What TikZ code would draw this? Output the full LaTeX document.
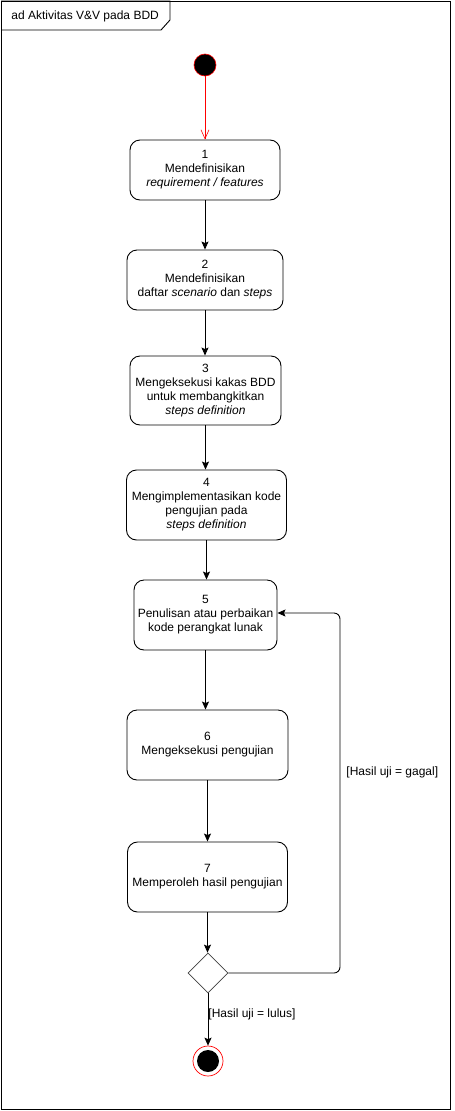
\documentclass[tikz,border=0pt]{standalone}
\usepackage{fontspec}
\setmainfont{Liberation Sans}
\usepackage{xcolor}
\definecolor{startred}{RGB}{255,0,0}
\usepackage{tikz}
\usetikzlibrary{arrows.meta,shapes.geometric,calc}

\begin{document}
\begin{tikzpicture}[x=1pt,y=-1pt,line width=0.9pt,
  act/.style={draw,rounded corners=10pt,align=center,font=\fontsize{12}{14}\selectfont},
  flow/.style={-{Stealth[length=8pt,width=7pt,inset=1.5pt]}},
  guard/.style={font=\fontsize{12}{14}\selectfont,inner sep=0pt}]
  \useasboundingbox (0,0) rectangle (455,1111);
  % frame and its name tag
  \draw (1,1) rectangle (450,1109);
  \draw (1,1) -- (170,1) -- (170,20) -- (161,30) -- (1,30);
  \node[guard,anchor=west] (title) at (11,16) {ad Aktivitas V\&V pada BDD};

  % initial node
  \node[circle,fill=black,draw=startred,line width=0.6pt,minimum size=22pt,inner sep=0pt] (start) at (205,65) {};

  % the activities
  \node[act,minimum width=150pt,minimum height=60pt] (act1) at (205,170)
    {1\\Mendefinisikan\\\textit{requirement / features}};
  \node[act,minimum width=156pt,minimum height=60pt] (act2) at (205,280)
    {2\\Mendefinisikan\\daftar \textit{scenario} dan \textit{steps}};
  \node[act,minimum width=151pt,minimum height=69pt] (act3) at (205.5,390.5)
    {3\\Mengeksekusi kakas BDD\\untuk membangkitkan\\\textit{steps definition}};
  \node[act,minimum width=160pt,minimum height=70pt] (act4) at (206.5,505)
    {4\\Mengimplementasikan kode\\pengujian pada\\\textit{steps definition}};
  \node[act,minimum width=143pt,minimum height=70pt] (act5) at (205.5,615)
    {5\\Penulisan atau perbaikan\\kode perangkat lunak};
  \node[act,minimum width=161pt,minimum height=70pt] (act6) at (207.5,745)
    {6\\Mengeksekusi pengujian};
  \node[act,minimum width=160pt,minimum height=70pt] (act7) at (207.5,877)
    {7\\Memperoleh hasil pengujian};

  % decision and final node
  \node[diamond,draw=black!75,minimum width=40pt,minimum height=40pt,inner sep=0pt,line width=0.7pt] (dec) at (208,973) {};
  \node[circle,draw=startred,line width=0.7pt,minimum size=30pt,inner sep=0pt] (stop) at (208,1061) {};
  \node[circle,fill=black,minimum size=22pt,inner sep=0pt] (stopdot) at (stop) {};

  % control flows
  \draw[startred,-{Straight Barb[length=9pt,width=8pt]},line width=0.6pt] (start) -- (start |- act1.north);
  \draw[flow] (act1) -- (act1 |- act2.north);
  \draw[flow] (act2.south) -- (act2.south |- act3.north);
  \draw[flow] (act3.south) -- (act3.south |- act4.north);
  \draw[flow] (act4.south) -- (act4.south |- act5.north);
  \draw[flow] (act5.south) -- (act5.south |- act6.north);
  \draw[flow] (act6.south) -- (act6.south |- act7.north);
  \draw[flow] (act7.south) -- (act7.south |- dec.north);
  \coordinate (loop) at (340,800);
  \draw[flow,rounded corners=6pt] (dec.east) -| (loop) |- ([yshift=2pt]act5.east);
  \node[guard,anchor=west] (failed) at (346,772) {[Hasil uji = gagal]};
  \draw[flow] (dec.south) -- (stop.north);
  \node[guard,anchor=west] (passed) at (208,1014) {[Hasil uji = lulus]};
\end{tikzpicture}
\end{document}
